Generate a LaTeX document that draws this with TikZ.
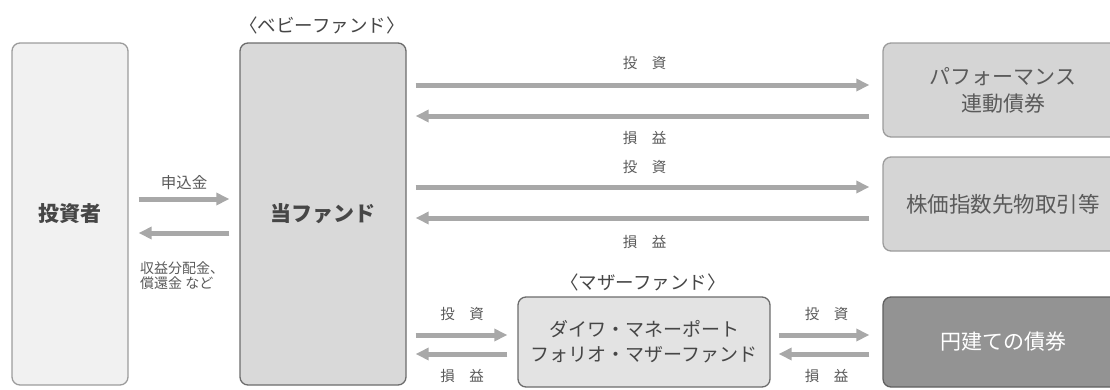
\documentclass[tikz,border=0pt]{standalone}
\usepackage{fontspec}
\setmainfont{Noto Sans CJK JP}
\usetikzlibrary{arrows.meta, positioning}
\definecolor{boxline}{HTML}{9C9C9C}
\definecolor{arrowgray}{HTML}{A8A8A8}
\definecolor{txtgray}{HTML}{464646}
\definecolor{lblgray}{HTML}{5A5A5A}
\tikzset{
	x=1pt, y=-1pt,
	box/.style={draw=boxline, line width=1.3pt, rounded corners=8pt, inner sep=0pt, align=center, text=txtgray},
	flow/.style={draw=arrowgray, line width=5pt, -{Triangle[length=13pt,width=12pt]}},
	lbl/.style={text=lblgray, font=\fontsize{14.5}{16}\selectfont, inner sep=0pt},
	head/.style={text=txtgray, font=\fontsize{18.5}{20}\selectfont, inner sep=0pt},
}
\newcommand{\gap}[2]{#1\hspace{1em}#2}

\begin{document}
\begin{tikzpicture}
	\useasboundingbox (0,0) rectangle (1110,389);
	\clip (0,0) rectangle (1110,389);
	% boxes
	\node [box, fill=gray!11, minimum width=116pt, minimum height=342pt, font=\fontsize{21}{24}\selectfont\bfseries] (INV) at (70,214) {投資者};
	\node [box, draw=gray!85!black, fill=gray!30, minimum width=166pt, minimum height=342pt, font=\fontsize{21}{24}\selectfont\bfseries] (BABY) at (323,214) {当ファンド};
	\node [box, fill=gray!33, minimum width=240pt, minimum height=94pt, text=lblgray, font=\fontsize{21}{27}\selectfont] (PERF) at (1003,90) {パフォーマンス\\連動債券};
	\node [box, fill=gray!33, minimum width=240pt, minimum height=94pt, text=lblgray, font=\fontsize{21.5}{24}\selectfont] (FUT) at (1003,204) {株価指数先物取引等};
	\node [box, draw=gray!85!black, fill=gray!22, minimum width=252pt, minimum height=90pt, font=\fontsize{19}{25}\selectfont] (MOTHER) at (644,342) {ダイワ・マネーポート\\フォリオ・マザーファンド};
	\node [box, draw=gray!75!black, fill=gray!85, minimum width=240pt, minimum height=90pt, text=white, font=\fontsize{21}{24}\selectfont] (YEN) at (1003,342) {円建ての債券};
	% headings
	\node [head] (BABYlbl) at (322,25) {〈ベビーファンド〉};
	\node [head] (MOTHERlbl) at (643,282) {〈マザーファンド〉};
	% investor <-> fund
	\draw [flow, shorten <=10pt, shorten >=10pt] (INV.east |- 0,199) -- node[lbl, yshift=16pt, font=\fontsize{15.5}{17}\selectfont]{申込金} (BABY.west |- 0,199);
	\draw [flow, shorten <=10pt, shorten >=10pt] (BABY.west |- 0,233) -- (INV.east |- 0,233);
	\node [lbl, anchor=north west, align=left, font=\fontsize{14}{15}\selectfont] (PAYlbl) at (140,262) {収益分配金、\\償還金 など};
	% fund <-> performance bonds
	\draw [flow, shorten <=9pt, shorten >=13pt] (BABY.east |- 0,85) -- node[lbl, yshift=22pt]{\gap{投}{資}} (PERF.west |- 0,85);
	\draw [flow, shorten <=13pt, shorten >=9pt] (PERF.west |- 0,116) -- node[lbl, yshift=-22pt]{\gap{損}{益}} (BABY.east |- 0,116);
	% fund <-> futures
	\draw [flow, shorten <=9pt, shorten >=13pt] (BABY.east |- 0,187) -- node[lbl, yshift=20pt]{\gap{投}{資}} (FUT.west |- 0,187);
	\draw [flow, shorten <=13pt, shorten >=9pt] (FUT.west |- 0,218) -- node[lbl, yshift=-24pt]{\gap{損}{益}} (BABY.east |- 0,218);
	% fund <-> mother fund
	\draw [flow, shorten <=9pt, shorten >=10pt] (BABY.east |- 0,335) -- node[lbl, yshift=21pt]{\gap{投}{資}} (MOTHER.west |- 0,335);
	\draw [flow, shorten <=10pt, shorten >=9pt] (MOTHER.west |- 0,354) -- node[lbl, yshift=-22pt]{\gap{損}{益}} (BABY.east |- 0,354);
	% mother fund <-> yen bonds
	\draw [flow, shorten <=8pt, shorten >=13pt] (MOTHER.east |- 0,335) -- node[lbl, yshift=21pt]{\gap{投}{資}} (YEN.west |- 0,335);
	\draw [flow, shorten <=13pt, shorten >=8pt] (YEN.west |- 0,354) -- node[lbl, yshift=-22pt]{\gap{損}{益}} (MOTHER.east |- 0,354);
\end{tikzpicture}
\end{document}
